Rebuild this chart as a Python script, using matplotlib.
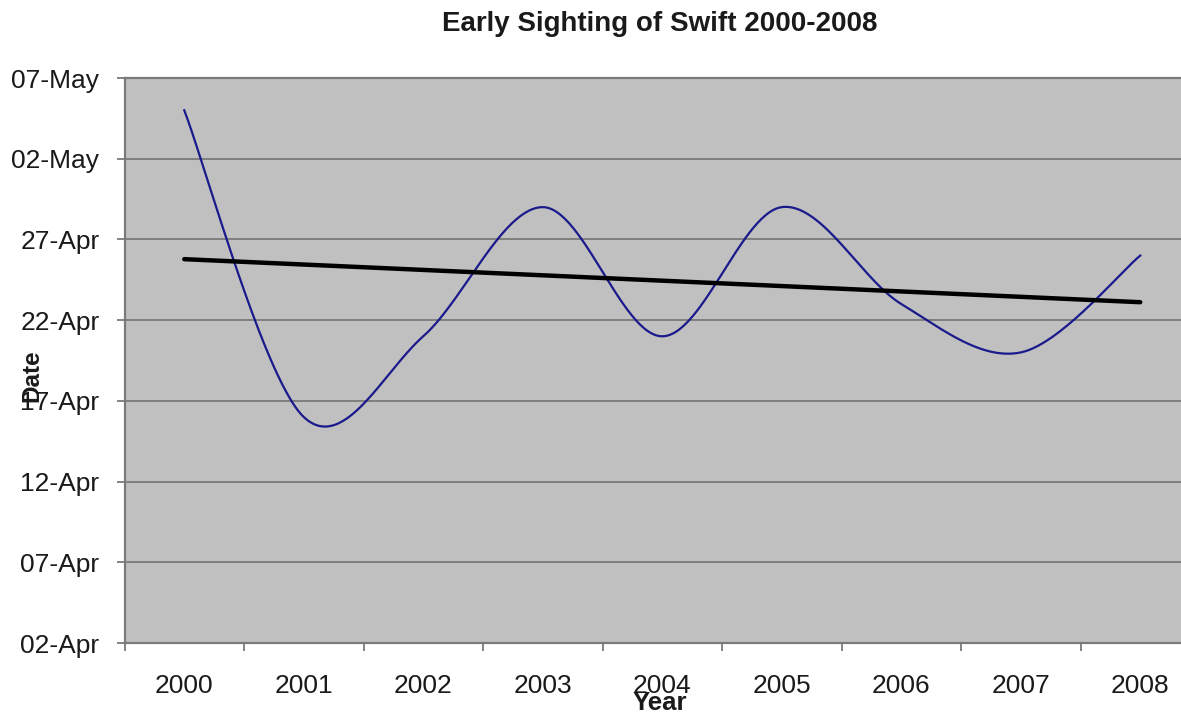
import numpy as np
import matplotlib
matplotlib.use("Agg")
import matplotlib.pyplot as plt
import matplotlib.dates as mdates
from datetime import datetime

plt.rcParams['font.family'] = ['Liberation Sans', 'DejaVu Sans']

# ---- data ----
years = [2000, 2001, 2002, 2003, 2004, 2005, 2006, 2007, 2008]
sightings = ["05-May", "16-Apr", "21-Apr", "29-Apr", "21-Apr",
             "29-Apr", "23-Apr", "20-Apr", "26-Apr"]
y_tick_labels = ["02-Apr", "07-Apr", "12-Apr", "17-Apr", "22-Apr",
                 "27-Apr", "02-May", "07-May"]
title = "Early Sighting of Swift 2000-2008"
x_label = "Year"
y_label = "Date"


def to_num(s):
    return mdates.date2num(datetime.strptime(s + "-2008", "%d-%b-%Y"))


x = np.array(years, dtype=float)
y = np.array([to_num(s) for s in sightings])
yticks = [to_num(s) for s in y_tick_labels]


# Excel-like smoothed line (Catmull-Rom Bezier through the points)
def smooth(xs, ys, n=60):
    pts = np.column_stack([xs, ys])
    P = np.vstack([pts[0], pts, pts[-1]])
    out = []
    t = np.linspace(0, 1, n)[:, None]
    for i in range(len(pts) - 1):
        p0, p1, p2, p3 = P[i], P[i + 1], P[i + 2], P[i + 3]
        c1 = p1 + (p2 - p0) / 6.0
        c2 = p2 - (p3 - p1) / 6.0
        seg = ((1 - t) ** 3) * p1 + 3 * ((1 - t) ** 2) * t * c1 + \
            3 * (1 - t) * t ** 2 * c2 + t ** 3 * p2
        out.append(seg if i == 0 else seg[1:])
    a = np.vstack(out)
    return a[:, 0], a[:, 1]


sx, sy = smooth(x, y)
coef = np.polyfit(x, y, 1)
tx = np.array([x[0], x[-1]])
ty = np.polyval(coef, tx)

W, H = 1181, 715
fig = plt.figure(figsize=(W / 100, H / 100), dpi=100)
fig.patch.set_facecolor('white')
ax = fig.add_axes([124.5 / W, 1 - 643 / H, 1075.5 / W, (643 - 78) / H])
ax.set_facecolor('#C0C0C0')

ax.plot(sx, sy, color='#1a1a8c', lw=1.6, zorder=3)
ax.plot(tx, ty, color='black', lw=3.2, solid_capstyle='round', zorder=4)

ax.set_xlim(1999.5, 2008.5)
ax.set_ylim(yticks[0], yticks[-1])

ax.set_yticks(yticks)
ax.set_yticklabels(y_tick_labels)
ax.yaxis.grid(True, color='#7a7a7a', lw=1.3)
ax.set_axisbelow(True)

ax.set_xticks(np.arange(1999.5, 2009.0, 1.0))
ax.set_xticklabels([])
ax.set_xticks(x, minor=True)
ax.set_xticklabels([str(v) for v in years], minor=True)

ax.tick_params(axis='y', which='major', direction='out', length=6, width=1.3,
               color='#7a7a7a', pad=12, labelsize=19, labelcolor='#1a1a1a')
ax.tick_params(axis='x', which='major', direction='out', length=6, width=1.3,
               color='#7a7a7a')
ax.tick_params(axis='x', which='minor', length=0, pad=22, labelsize=19,
               labelcolor='#1a1a1a')

for side in ['right']:
    ax.spines[side].set_visible(False)
for side in ['left', 'bottom', 'top']:
    ax.spines[side].set_color('#7a7a7a')
    ax.spines[side].set_linewidth(1.6)

fig.text(660 / W, 1 - 24 / H, title, ha='center', va='center',
         fontsize=20, fontweight='bold', color='#1a1a1a')
fig.text(660 / W, 1 - 703 / H, x_label, ha='center', va='center',
         fontsize=18.5, fontweight='bold', color='#1a1a1a')
fig.text(32 / W, 1 - 376 / H, y_label, ha='center', va='center',
         rotation=90, fontsize=17.5, fontweight='bold', color='#1a1a1a')

fig.savefig('out.png', dpi=100)
